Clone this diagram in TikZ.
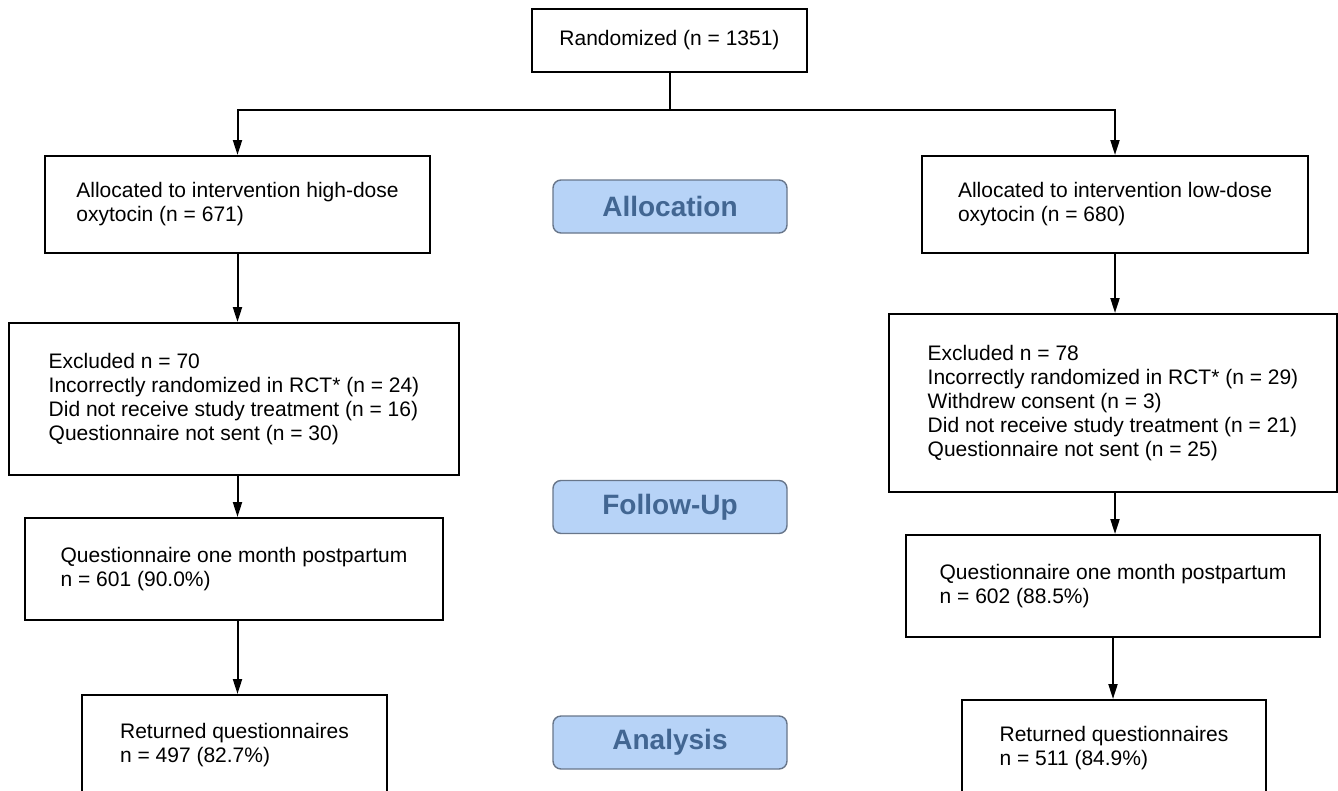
\documentclass[tikz,border=0pt]{standalone}
\usepackage{fontspec}
\setmainfont{Liberation Sans}
\usetikzlibrary{arrows.meta}
\definecolor{phasefill}{RGB}{183,211,247}
\definecolor{phaseline}{RGB}{104,118,138}
\definecolor{phasetext}{RGB}{66,102,146}
\begin{document}
\begin{tikzpicture}[x=1pt,y=-1pt]
	\tikzstyle{every node}=[font=\fontsize{21}{24}\selectfont]
	\tikzstyle{flowbox}=[draw, line width=2pt, rectangle, align=left, inner sep=0pt]
	\tikzstyle{phasebox}=[draw=phaseline, fill=phasefill, line width=1.4pt, rounded corners=8pt, minimum width=234pt, minimum height=53pt, text=phasetext, font=\fontsize{28}{30}\bfseries]
	\tikzstyle{arr}=[line width=2pt, -{Triangle[length=15pt,width=9pt]}]

	\useasboundingbox (0.0000,0.0000) rectangle (1338.0000,790.0000);

	%% boxes
	\node [flowbox, minimum width=275pt, minimum height=63pt] (rand) at (669.5000,40.5000) {Randomized (n = 1351)};
	\node [flowbox, minimum width=385pt, minimum height=97pt] (allocH) at (237.5000,204.5000) {Allocated to intervention high-dose\\oxytocin (n = 671)};
	\node [flowbox, minimum width=386pt, minimum height=97pt] (allocL) at (1115.0000,204.5000) {Allocated to intervention low-dose\\oxytocin (n = 680)};
	\node [flowbox, minimum width=450pt, minimum height=152pt] (exclH) at (234.0000,399.0000) {Excluded n = 70\\Incorrectly randomized in RCT* (n = 24)\\Did not receive study treatment (n = 16)\\Questionnaire not sent (n = 30)};
	\node [flowbox, minimum width=448pt, minimum height=178pt] (exclL) at (1113.0000,403.0000) {Excluded n = 78\\Incorrectly randomized in RCT* (n = 29)\\Withdrew consent (n = 3)\\Did not receive study treatment (n = 21)\\Questionnaire not sent (n = 25)};
	\node [flowbox, minimum width=418pt, minimum height=102pt] (questH) at (234.0000,569.0000) {Questionnaire one month postpartum\\n = 601 (90.0\%)};
	\node [flowbox, minimum width=414pt, minimum height=102pt] (questL) at (1113.0000,586.0000) {Questionnaire one month postpartum\\n = 602 (88.5\%)};
	\node [flowbox, minimum width=305pt, minimum height=100pt] (retH) at (234.5000,745.0000) {Returned questionnaires\\n = 497 (82.7\%)};
	\node [flowbox, minimum width=304pt, minimum height=97pt] (retL) at (1114.0000,748.5000) {Returned questionnaires\\n = 511 (84.9\%)};

	%% phases
	\node [phasebox] (alloc) at (670.0000,206.5000) {Allocation};
	\node [phasebox] (follow) at (670.0000,507.0000) {Follow-Up};
	\node [phasebox] (analysis) at (670.0000,742.5000) {Analysis};

	%% connectors
	\draw [line width=2pt] (rand.south) -- ++(0,37) coordinate (split);
	\draw [arr] (split) -| (allocH.north);
	\draw [arr] (split) -| (allocL.north);
	\draw [arr] (allocH.south) -- (allocH.south |- exclH.north);
	\draw [arr] (exclH.south -| allocH.south) -- (allocH.south |- questH.north);
	\draw [arr] (questH.south -| allocH.south) -- (allocH.south |- retH.north);
	\draw [arr] (allocL.south) -- (allocL.south |- exclL.north);
	\draw [arr] (exclL.south -| allocL.south) -- (allocL.south |- questL.north);
	\draw [arr] (questL.south) -- (questL.south |- retL.north);

\end{tikzpicture}
\end{document}
